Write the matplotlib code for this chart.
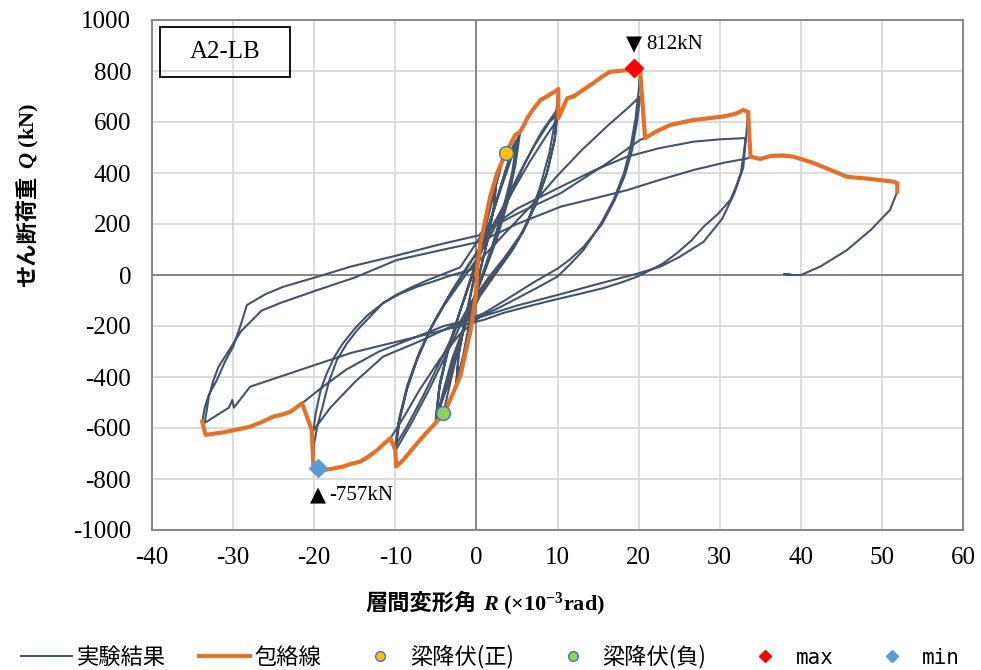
import matplotlib
matplotlib.use("Agg")
import matplotlib.pyplot as plt
import numpy as np
from matplotlib.lines import Line2D
from matplotlib.patches import Rectangle

plt.rcParams["axes.unicode_minus"] = False
plt.rcParams["mathtext.fontset"] = "custom"
plt.rcParams["mathtext.rm"] = "Liberation Serif:bold"
plt.rcParams["mathtext.it"] = "Liberation Serif:italic:bold"
plt.rcParams["mathtext.bf"] = "Liberation Serif:bold"

# test record (R x1e-3 rad, Q kN), one list per amplitude group
stage_2p5 = [(0, 0), (0.5, 120), (1.2, 240), (1.7, 307), (2.5, 395), (2.2, 280), (1.5, 150),
             (0.5, 20), (-0.7, -170), (-1.5, -310), (-2.5, -440), (-2.2, -320), (-1.5, -190),
             (-0.5, -40), (0.5, 100), (1.5, 260), (2.5, 385), (2.2, 270), (1.4, 140), (0.4, 10),
             (-0.7, -160), (-1.6, -310), (-2.5, -430)]

stage_5 = [(-2.2, -310), (-1.3, -170), (-0.3, -20), (0.8, 140), (2.0, 300), (3.0, 420),
           (3.6, 478), (4.8, 549), (5.4, 562), (4.8, 430), (3.8, 280), (2.5, 140), (1.0, 10),
           (-0.5, -110), (-2.0, -260), (-3.2, -420), (-4.07, -541), (-5.05, -581), (-4.6, -450),
           (-3.6, -300), (-2.2, -160), (-0.8, -30), (0.6, 90), (2.0, 240), (3.4, 390), (4.5, 500),
           (5.2, 540), (4.6, 410), (3.5, 270), (2.2, 130), (0.8, 0), (-0.8, -130), (-2.2, -280),
           (-3.6, -440), (-5.0, -560), (-4.5, -420), (-3.4, -280), (-2.0, -140), (-0.6, -10),
           (0.8, 120), (2.2, 260), (3.6, 410), (4.6, 510), (5.0, 530), (4.4, 400), (3.3, 260),
           (2.0, 120), (0.6, -10), (-1.0, -150), (-2.5, -300), (-3.8, -450), (-4.9, -555)]

stage_10 = [(-4.5, -430), (-3.5, -300), (-2.2, -160), (-0.8, -20), (0.8, 130), (2.5, 290),
            (4.0, 430), (5.5, 570), (6.25, 614), (7.9, 686), (9.0, 710), (9.95, 725), (10.1, 730),
            (9.8, 620), (9.0, 480), (7.8, 340), (6.2, 200), (4.5, 100), (2.5, 10), (0.5, -80),
            (-1.5, -200), (-3.0, -330), (-4.2, -470), (-5.05, -581), (-7.3, -660), (-9.0, -725),
            (-9.9, -751), (-10.0, -686), (-9.4, -560), (-8.5, -440), (-7.3, -330), (-5.8, -220),
            (-4.0, -120), (-2.0, -30), (0.0, 60), (2.0, 170), (4.0, 300), (6.0, 440), (8.0, 560),
            (10.0, 650), (9.7, 540), (8.8, 410), (7.5, 290), (5.8, 170), (4.0, 80), (2.0, 0),
            (0.0, -90), (-2.0, -200), (-4.0, -330), (-6.0, -460), (-8.0, -580), (-10.0, -690),
            (-9.5, -560), (-8.5, -430), (-7.0, -300), (-5.0, -170), (-3.0, -60), (-1.0, 40),
            (1.0, 130), (3.0, 250), (5.0, 380), (7.0, 500), (9.0, 600), (10.0, 630), (9.6, 520),
            (8.6, 390), (7.2, 270), (5.5, 160), (3.5, 70), (1.5, -10), (-0.5, -100),
            (-2.5, -210), (-4.5, -340), (-6.5, -470), (-8.5, -590), (-10.0, -670)]

stage_20 = [(-9.6, -580), (-8.6, -450), (-7.3, -330), (-5.5, -200), (-3.5, -90), (-1.5, 10),
            (0.5, 110), (2.5, 220), (4.5, 330), (6.5, 440), (8.5, 540), (10.1, 615), (11.2, 693),
            (12.8, 718), (14.4, 752), (16.5, 797), (18.6, 803), (19.4, 812), (20.2, 797),
            (20.0, 720), (19.6, 610), (19.0, 500), (18.2, 400), (16.9, 294), (15.5, 210),
            (14.2, 145), (13.2, 98), (11.5, 40), (9.95, -7), (7.5, -50), (5.4, -85), (3.0, -125),
            (0.5, -163), (-2.0, -230), (-4.5, -330), (-7.0, -450), (-9.0, -560), (-10.6, -640),
            (-12.2, -686), (-14.3, -732), (-16.4, -751), (-18.6, -764), (-19.5, -757),
            (-20.1, -751), (-20.0, -660), (-19.6, -590), (-19.0, -520), (-18.2, -420),
            (-17.2, -333), (-16.0, -270), (-14.7, -216), (-13.0, -160), (-11.5, -110),
            (-9.5, -75), (-7.3, -46), (-5.0, -22), (-3.0, 0), (-0.7, 20), (1.5, 95), (4.0, 180),
            (7.0, 280), (10.0, 390), (13.0, 490), (16.0, 580), (18.5, 650), (20.2, 700),
            (19.8, 600), (19.2, 490), (18.3, 390), (17.0, 290), (15.5, 200), (13.2, 110),
            (11.5, 60), (10.0, 25), (7.0, -30), (4.0, -90), (0.9, -150), (-3.0, -200),
            (-7.0, -260), (-11.5, -320), (-15.0, -420), (-18.0, -520), (-20.1, -610),
            (-19.8, -540), (-19.2, -450), (-18.5, -390), (-17.5, -320), (-16.5, -270),
            (-15.0, -210), (-13.5, -160), (-11.5, -110), (-10.0, -80), (-8.0, -48), (-6.0, -20),
            (-4.0, 5), (-2.0, 30), (0.5, 150)]

stage_33 = [(0.5, 164), (5.0, 240), (10.4, 321), (16.1, 438), (20.2, 530), (20.8, 537),
            (23.9, 588), (26.8, 608), (29.2, 617), (32.1, 634), (32.9, 647), (33.5, 640),
            (33.3, 560), (32.9, 420), (31.8, 320), (30.3, 220), (28.0, 130), (25.0, 70),
            (22.7, 33), (19.8, 5), (15.0, -35), (10.4, -75), (5.0, -120), (0.5, -165),
            (-4.0, -200), (-8.0, -250), (-12.0, -300), (-16.0, -370), (-19.0, -440),
            (-21.5, -503), (-22.9, -536), (-25.0, -555), (-27.9, -595), (-31.2, -617),
            (-33.4, -627), (-33.8, -575), (-33.5, -520), (-33.0, -470), (-32.0, -412),
            (-31.0, -340), (-30.0, -281), (-29.0, -190), (-28.3, -118), (-26.0, -75),
            (-23.8, -46), (-19.6, -7), (-15.5, 33), (-10.0, 75), (-4.5, 120), (0.5, 157),
            (5.0, 260), (10.4, 346), (14.5, 410), (18.6, 464), (22.5, 497), (26.8, 523),
            (30.0, 532), (33.2, 537), (32.9, 460), (32.6, 400), (32.0, 345), (31.3, 294),
            (29.8, 240), (28.0, 189), (26.5, 135), (24.7, 85), (23.0, 45), (21.5, 20),
            (19.8, -7), (17.8, -30), (15.7, -51), (12.5, -76), (9.5, -98), (6.5, -122),
            (3.3, -149), (0.9, -176), (-7.3, -242), (-15.5, -306), (-21.7, -372), (-27.9, -438),
            (-29.9, -520), (-30.1, -490), (-30.5, -520), (-33.5, -580), (-33.4, -560),
            (-33.0, -480), (-32.5, -420), (-31.8, -360), (-31.0, -320), (-29.0, -220),
            (-26.5, -140), (-24.2, -110), (-19.6, -59), (-15.0, -10), (-9.8, 59), (-4.0, 100),
            (0.5, 131), (5.0, 200), (10.4, 268), (14.5, 300), (18.6, 333), (22.5, 372),
            (26.8, 412), (30.5, 440), (33.4, 457)]

stage_final = [(33.8, 464), (35.0, 455), (36.3, 467), (39.1, 464), (41.6, 439), (43.2, 418),
               (45.7, 385), (51.4, 366), (51.9, 360), (51.9, 327), (51.0, 255), (48.6, 176),
               (45.7, 98), (42.4, 33), (40.0, 0), (39.2, 0), (37.9, 3), (38.5, 3)]

# envelope (positive and negative branches)
env_pos_R = [0, 0.5, 1.7, 2.55, 3.6, 4.8, 5.4, 5.9, 6.25, 7.0, 7.9, 8.8, 9.95, 10.1, 10.1,
             11.2, 12.0, 12.8, 13.6, 14.4, 15.5, 16.5, 17.5, 18.6, 19.4, 20.2, 20.8, 22.3,
             23.9, 25.3, 26.8, 28.0, 29.2, 30.6, 32.1, 32.9, 33.5, 33.8, 35.0, 36.3, 37.8,
             39.1, 41.6, 43.2, 45.7, 48.5, 51.4, 51.9, 51.9]
env_pos_Q = [0, 125, 307, 399, 478, 549, 562, 590, 614, 650, 686, 702, 725, 730, 615,
             693, 700, 718, 735, 752, 778, 797, 800, 803, 812, 797, 537, 565,
             588, 598, 608, 612, 617, 622, 634, 647, 640, 464, 455, 467, 469,
             464, 439, 418, 385, 377, 366, 360, 327]
env_neg_R = [0, 0.1, -0.1, -0.7, -2.0, -3.6, -4.07, -5.05, -6.2, -7.3, -8.1, -9.0, -9.9,
             -10.0, -10.6, -11.4, -12.2, -13.3, -14.3, -15.4, -16.4, -17.5, -18.6, -19.5,
             -20.1, -20.3, -21.5, -22.9, -24.0, -25.0, -26.5, -27.9, -29.5, -31.2, -33.4, -33.8]
env_neg_Q = [0, -7, -85, -216, -399, -516, -541, -581, -620, -660, -690, -725, -751,
             -686, -640, -662, -686, -712, -732, -740, -751, -758, -764, -757,
             -751, -608, -503, -536, -548, -555, -577, -595, -606, -617, -627, -575]

yield_pos = (3.6, 478)
yield_neg = (-4.07, -541)
q_max = (19.4, 812)
q_min = (-19.5, -757)

GREY = "#44546A"
ORANGE = "#E2712A"

serif = "Liberation Serif"
W, H = 981, 670

fig = plt.figure(figsize=(W / 100, H / 100), dpi=100)
ax = fig.add_axes([152 / W, 1 - 530 / H, 811 / W, 510 / H])

rec = np.array(stage_2p5 + stage_5 + stage_10 + stage_20 + stage_33 + stage_final)
ax.plot(rec[:, 0], rec[:, 1], color=GREY, lw=1.5, zorder=3)
ax.plot(env_pos_R, env_pos_Q, color=ORANGE, lw=3, zorder=4, solid_joinstyle="round")
ax.plot(env_neg_R, env_neg_Q, color=ORANGE, lw=3, zorder=4, solid_joinstyle="round")

ax.plot(*yield_pos, "o", ms=10, mfc="#FFC000", mec="#4472C4", mew=1, zorder=6)
ax.plot(*yield_neg, "o", ms=10, mfc="#92D050", mec="#4472C4", mew=1, zorder=6)
ax.plot(*q_max, "D", ms=9, color="#FF0000", zorder=6)
ax.plot(*q_min, "D", ms=9, color="#5B9BD5", zorder=6)

# peak labels
ax.annotate("▼", xy=q_max, xytext=(0, 17), textcoords="offset points", ha="center",
            va="center", fontsize=15, family="DejaVu Sans")
ax.annotate(f"{q_max[1]}kN", xy=q_max, xytext=(9, 17), textcoords="offset points",
            ha="left", va="center", fontsize=15, family=serif)
ax.annotate("▲", xy=q_min, xytext=(0, -20), textcoords="offset points", ha="center",
            va="center", fontsize=15, family="DejaVu Sans")
ax.annotate(f"{q_min[1]}kN", xy=q_min, xytext=(8, -20), textcoords="offset points",
            ha="left", va="center", fontsize=15, family=serif)

ax.set_xlim(-40, 60)
ax.set_ylim(-1000, 1000)
ax.set_xticks(np.arange(-40, 61, 10))
ax.set_yticks(np.arange(-1000, 1001, 200))
ax.grid(True, color="#D9D9D9", lw=1.3)
ax.set_axisbelow(True)
ax.axhline(0, color="#808080", lw=1.3, zorder=2)
ax.axvline(0, color="#808080", lw=1.3, zorder=2)
for s in ax.spines.values():
    s.set_color("#808080")
    s.set_linewidth(1.3)
ax.tick_params(length=0, labelsize=18)
ax.tick_params(axis="y", pad=15)
ax.tick_params(axis="x", pad=12)
for lab in ax.get_xticklabels() + ax.get_yticklabels():
    lab.set_family(serif)

# specimen name box
ax.add_patch(Rectangle((0.01, 0.888), 0.16, 0.098, transform=ax.transAxes,
                       fill=False, ec="black", lw=1.3, zorder=7))
ax.text(0.09, 0.937, "A2-LB", transform=ax.transAxes, ha="center", va="center",
        fontsize=18, family=serif, zorder=8)


def label_pieces(pieces, cx, cy, vertical=False, gap=6):
    """Lay out a mixed-font label (Japanese + serif math) centred on pixel (cx, cy)."""
    rot = 90 if vertical else 0
    texts = [fig.text(0, 0, s, rotation=rot, rotation_mode="anchor", ha="left",
                      va="baseline", fontsize=16, weight="bold", **kw) for s, kw in pieces]
    fig.canvas.draw()
    r = fig.canvas.get_renderer()
    ext = [t.get_window_extent(r) for t in texts]
    sizes = [e.height if vertical else e.width for e in ext]
    total = sum(sizes) + gap * (len(sizes) - 1)
    pos = (H - cy) - total / 2 if vertical else cx - total / 2
    for t, sz in zip(texts, sizes):
        if vertical:
            t.set_position(((cx + 8) / W, pos / H))
        else:
            t.set_position((pos / W, (H - cy - 7) / H))
        pos += sz + gap


label_pieces([("層間変形角", dict(family="Noto Sans CJK JP")),
              ("$R$ (×10$^{-3}$rad)", dict(family=serif))], 485, 603)
label_pieces([("せん断荷重", dict(family="Noto Sans CJK JP")),
              ("$Q$ (kN)", dict(family=serif))], 26, 195, vertical=True)

handles = [
    Line2D([], [], color=GREY, lw=1.5),
    Line2D([], [], color=ORANGE, lw=3),
    Line2D([], [], ls="none", marker="o", ms=7, mfc="#FFC000", mec="#4472C4"),
    Line2D([], [], ls="none", marker="o", ms=7, mfc="#92D050", mec="#4472C4"),
    Line2D([], [], ls="none", marker="D", ms=6, color="#FF0000"),
    Line2D([], [], ls="none", marker="D", ms=6, color="#5B9BD5"),
]
labels = ["実験結果", "包絡線", "梁降伏(正)", "梁降伏(負)", "max", "min"]
leg = fig.legend(handles, labels, loc="center", bbox_to_anchor=(0.5, 1 - 657 / H),
                 ncol=6, frameon=False, handlelength=2.3, handletextpad=0.2,
                 columnspacing=1.5, prop={"family": "Noto Sans CJK JP", "size": 16})
for t in leg.get_texts()[4:]:
    t.set_family("DejaVu Sans Mono")
    t.set_fontsize(15)

fig.savefig("out.png", dpi=100)
